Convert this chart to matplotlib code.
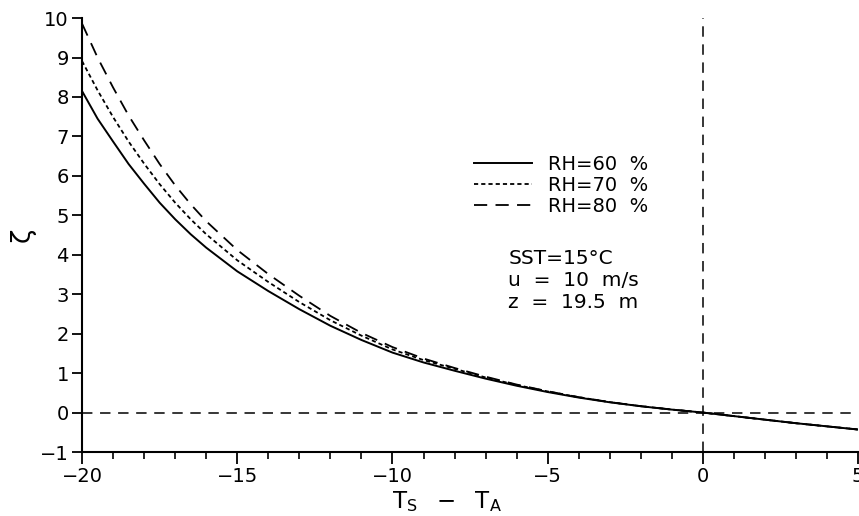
import matplotlib
matplotlib.use('Agg')
import matplotlib.pyplot as plt
from matplotlib.ticker import MultipleLocator

plt.rcParams['font.family'] = ['DejaVu Sans']
plt.rcParams['lines.scale_dashes'] = False

# temperature difference Ts - Ta (denser where the curves are steep)
dT = [-20, -19.5, -19, -18.5, -18, -17.5, -17, -16.5, -16, -15, -14, -13, -12, -11,
      -10, -9, -8, -7, -6, -5, -4, -3, -2, -1, 0, 1, 2, 3, 4, 5]

# stability parameter zeta for each relative humidity
rh60 = [8.15, 7.45, 6.87, 6.3, 5.8, 5.32, 4.9, 4.52, 4.18, 3.58, 3.08, 2.62, 2.2, 1.84,
        1.52, 1.27, 1.06, 0.86, 0.68, 0.52, 0.38, 0.26, 0.16, 0.075, 0.0,
        -0.09, -0.18, -0.27, -0.35, -0.43]
rh70 = [8.91, 8.17, 7.49, 6.87, 6.31, 5.79, 5.32, 4.9, 4.52, 3.86, 3.31, 2.8, 2.34, 1.95,
        1.6, 1.33, 1.11, 0.89, 0.7, 0.535, 0.39, 0.265, 0.162, 0.076, 0.0,
        -0.09, -0.18, -0.27, -0.35, -0.43]
rh80 = [9.86, 9.0, 8.24, 7.53, 6.9, 6.3, 5.76, 5.28, 4.85, 4.12, 3.51, 2.96, 2.45, 2.02,
        1.66, 1.37, 1.13, 0.91, 0.71, 0.54, 0.39, 0.265, 0.162, 0.076, 0.0,
        -0.09, -0.18, -0.27, -0.35, -0.43]

labels = ['RH=60  %', 'RH=70  %', 'RH=80  %']

fig = plt.figure(figsize=(8.59, 5.16), dpi=100)
ax = fig.add_axes([0.0955, 0.124, 0.9035, 0.841])

l1, = ax.plot(dT, rh60, color='black', lw=1.4, label=labels[0])
l2, = ax.plot(dT, rh70, color='black', lw=1.3, dashes=(3, 2.2), label=labels[1])
l3, = ax.plot(dT, rh80, color='black', lw=1.3, dashes=(9.5, 6), label=labels[2])

# zero lines
ax.plot([-20, 5], [0, 0], color='black', lw=1.1, dashes=(7.5, 5.5))
ax.plot([0, 0], [-1, 10], color='black', lw=1.1, dashes=(7.5, 5.5))

ax.set_xlim(-20, 5)
ax.set_ylim(-1, 10)
ax.spines['top'].set_visible(False)
ax.spines['right'].set_visible(False)
ax.spines['left'].set_linewidth(1.5)
ax.spines['bottom'].set_linewidth(1.5)

ax.xaxis.set_major_locator(MultipleLocator(5))
ax.xaxis.set_minor_locator(MultipleLocator(1))
ax.yaxis.set_major_locator(MultipleLocator(1))
ax.tick_params(axis='x', which='major', length=8.5, width=1.3, labelsize=14, pad=2)
ax.tick_params(axis='x', which='minor', length=5, width=1.2)
ax.tick_params(axis='y', which='major', length=7, width=1.3, labelsize=14, pad=2.5)

ax.set_xlabel(r'$\mathregular{T_S\ \ -\ \ T_A}$', fontsize=16.5)
ax.xaxis.set_label_coords(0.47, -0.085)
ax.set_ylabel('ζ', fontsize=19)
ax.yaxis.set_label_coords(-0.06, 0.5)

ax.legend(handles=[l1, l2, l3], frameon=False, fontsize=14, loc='upper left',
          bbox_to_anchor=(0.495, 0.703), handlelength=3.0, handletextpad=0.8,
          labelspacing=0.1, borderaxespad=0)

tx = -6.27
ax.text(tx, 3.76, 'SST=15°C', fontsize=14.5, va='baseline')
ax.text(tx, 3.2, 'u  =  10  m/s', fontsize=14.5, va='baseline')
ax.text(tx, 2.64, 'z  =  19.5  m', fontsize=14.5, va='baseline')

fig.savefig('out.png', dpi=100)
